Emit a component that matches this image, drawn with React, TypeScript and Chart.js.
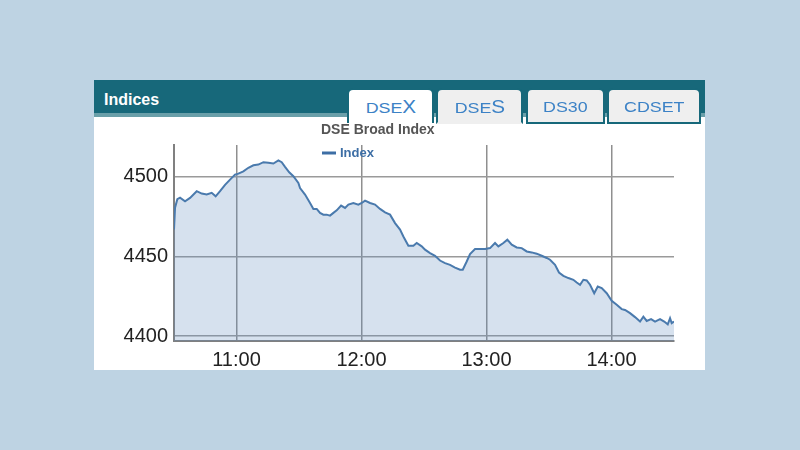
import React, { useEffect, useRef } from "react";
import { Chart, registerables } from "chart.js";

Chart.register(...registerables);

// minutes since 10:30
const minutes = [
  0, 0.5, 1.6, 2.9, 5.3, 7.7, 10.9, 13.3, 15.7, 18.1, 20.0, 22.1, 24.5, 26.9, 29.3, 30.9,
  33.3, 35.7, 38.1, 40.5, 42.9, 45.3, 47.7, 50.1, 51.7, 53.3, 55.3, 57.3, 59.7, 60.5, 62.9,
  65.3, 66.9, 68.5, 70.1, 71.7, 73.3, 74.9, 76.5, 78.1, 80.2, 82.1, 83.7, 86.1, 88.5, 90.1,
  91.7, 94.1, 96.5, 98.9, 101.3, 103.7, 106.1, 108.5, 110.1, 112.5, 114.9, 116.5, 118.9,
  120.5, 122.9, 125.3, 127.7, 130.1, 132.5, 134.9, 137.3, 138.6, 140.5, 142.1, 144.5, 146.9,
  149.3, 151.7, 154.1, 155.7, 158.1, 160.0, 162.1, 164.5, 166.9, 169.3, 171.7, 174.1, 176.5,
  178.9, 180.5, 182.9, 184.8, 186.9, 189.3, 191.7, 193.3, 194.9, 196.5, 198.1, 199.7, 201.7,
  203.4, 205.3, 207.7, 210.1, 212.5, 214.9, 216.5, 218.9, 221.3, 223.7, 225.3, 226.9, 229.0,
  230.9, 233.3, 235.3, 237.0, 238.1, 238.9, 240,
];

const indexValues = [
  4467, 4480.7, 4486, 4487, 4484.7, 4486.8, 4491, 4489.5, 4488.9, 4490, 4487.8, 4491, 4495,
  4498.3, 4501.4, 4502, 4503.5, 4505.7, 4507.3, 4507.7, 4509.2, 4508.8, 4508.4, 4510.3,
  4509.2, 4506.3, 4502.9, 4500.4, 4496.2, 4493, 4488.9, 4483.6, 4479.9, 4479.9, 4477.4,
  4476.3, 4476.3, 4475.7, 4477.4, 4479, 4482, 4480.5, 4482.6, 4483.6, 4482.6, 4483.6, 4485.1,
  4483.6, 4482.6, 4479.9, 4477.7, 4476.3, 4471, 4466.9, 4462.6, 4456.8, 4456.8, 4458.5,
  4456.4, 4454.3, 4452.2, 4450.5, 4447.5, 4445.9, 4444.8, 4443.1, 4441.7, 4441.7, 4446.9,
  4451.6, 4454.7, 4454.7, 4454.7, 4455.3, 4458.5, 4456.4, 4458.5, 4460.6, 4457.4, 4455.7,
  4455.3, 4453.2, 4452.6, 4451.8, 4450.5, 4449.1, 4448, 4444.8, 4440, 4437.9, 4436.5, 4435.4,
  4433.7, 4432.3, 4435.4, 4435, 4432.3, 4427, 4431.2, 4430.2, 4427, 4422.2, 4419.7, 4417,
  4416.5, 4414.5, 4412, 4409.2, 4412.3, 4409.6, 4410.7, 4409.2, 4410.7, 4409.2, 4407.5,
  4411.3, 4408.2, 4409.2,
];

const xTickMinutes = [30, 90, 150, 210];
const xTickLabels = ["11:00", "12:00", "13:00", "14:00"];
const yTickValues = [4400, 4450, 4500];

const chartTitle = "DSE Broad Index";
const seriesLabel = "Index";
const panelTitle = "Indices";

const LINE = "#4a7aad";
const FILL = "rgba(96, 140, 190, 0.26)";

const headerPlugin = {
  id: "headerText",
  afterDraw(chart: any) {
    const ctx = chart.ctx;
    ctx.save();
    ctx.fillStyle = "#555555";
    ctx.font = "bold 14px 'Liberation Sans', Arial, sans-serif";
    ctx.textBaseline = "alphabetic";
    ctx.textAlign = "left";
    ctx.fillText(chartTitle, 226, 14);
    ctx.strokeStyle = "#3d6ea5";
    ctx.lineWidth = 3;
    ctx.beginPath();
    ctx.moveTo(227, 33);
    ctx.lineTo(241, 33);
    ctx.stroke();
    ctx.fillStyle = "#3d6ea5";
    ctx.font = "bold 13px 'Liberation Sans', Arial, sans-serif";
    ctx.textBaseline = "middle";
    ctx.fillText(chart.data.datasets[0].label, 245, 33);
    ctx.restore();
  },
};

function ChartCanvas() {
  const ref = useRef<HTMLCanvasElement>(null);
  useEffect(() => {
    if (!ref.current) return;
    const chart = new Chart(ref.current, {
      type: "line",
      data: {
        datasets: [
          {
            label: seriesLabel,
            data: minutes.map((m, i) => ({ x: m, y: indexValues[i] })),
            borderColor: LINE,
            backgroundColor: FILL,
            borderWidth: 2,
            fill: "start",
            pointRadius: 0,
            tension: 0,
          },
        ],
      },
      options: {
        animation: false,
        responsive: false,
        layout: { padding: { top: 25, right: 31, left: 0, bottom: 0 } },
        plugins: {
          legend: { display: false },
          title: { display: false },
          tooltip: { enabled: false },
        },
        scales: {
          x: {
            type: "linear",
            min: 0,
            max: 240,
            afterBuildTicks: (s: any) => {
              s.ticks = xTickMinutes.map((v) => ({ value: v }));
            },
            afterFit: (s: any) => {
              s.height = 29;
            },
            ticks: {
              padding: 7,
              color: "#222",
              font: { family: "'Liberation Sans', Arial, sans-serif", size: 20 },
              callback: (v: any) => {
                const i = xTickMinutes.indexOf(Number(v));
                return i >= 0 ? xTickLabels[i] : "";
              },
              maxRotation: 0,
              autoSkip: false,
            },
            grid: { color: "#8f8f8f", lineWidth: 1.5, drawTicks: false },
            border: { display: true, color: "#808080", width: 2 },
          },
          y: {
            type: "linear",
            min: 4397,
            max: 4520,
            afterBuildTicks: (s: any) => {
              s.ticks = yTickValues.map((v) => ({ value: v }));
            },
            afterFit: (s: any) => {
              s.width = 79;
            },
            ticks: {
              padding: 6,
              color: "#222",
              font: { family: "'Liberation Sans', Arial, sans-serif", size: 20 },
              callback: (v: any) => String(v),
            },
            grid: { color: "#9a9a9a", lineWidth: 1.5, drawTicks: false },
            border: { display: true, color: "#808080", width: 2 },
          },
        },
      },
      plugins: [headerPlugin],
    });
    return () => chart.destroy();
  }, []);
  return (
    <canvas
      ref={ref}
      width={610}
      height={250}
      style={{ position: "absolute", left: 95, top: 120, width: 610, height: 250 }}
    />
  );
}

const tabFont = "'Liberation Sans', Arial, sans-serif";
const TEAL = "#17687a";
const TAB_BLUE = "#3c82c6";

function Tab(props: {
  left: number;
  width: number;
  active?: boolean;
  bottomBorder?: boolean;
  children: any;
}) {
  const { left, width, active, bottomBorder, children } = props;
  return (
    <div
      style={{
        position: "absolute",
        left,
        top: 88,
        width,
        height: active ? 35 : 36,
        boxSizing: "border-box",
        background: active ? "#ffffff" : "#efefef",
        border: `2px solid ${TEAL}`,
        borderBottom: active ? "none" : bottomBorder ? `2px solid ${TEAL}` : "2px solid #efefef",
        borderRadius: "6px 6px 0 0",
        display: "flex",
        alignItems: "center",
        justifyContent: "center",
        color: TAB_BLUE,
        fontFamily: tabFont,
        fontSize: 15.5,
        zIndex: 2,
      }}
    >
      <span style={{ display: "inline-block", transform: "scaleX(1.15)", marginTop: 2 }}>
        {children}
      </span>
    </div>
  );
}

export default function App() {
  return (
    <div
      style={{
        position: "fixed",
        left: 0,
        top: 0,
        width: 800,
        height: 450,
        background: "#bed3e3",
        overflow: "hidden",
      }}
    >
      <div
        style={{
          position: "absolute",
          left: 94,
          top: 80,
          width: 611,
          height: 290,
          background: "#ffffff",
        }}
      />
      <div
        style={{
          position: "absolute",
          left: 94,
          top: 80,
          width: 611,
          height: 33,
          background: TEAL,
          borderBottom: "4px solid #6a9fa9",
        }}
      />
      <div
        style={{
          position: "absolute",
          left: 104,
          top: 90,
          color: "#ffffff",
          fontFamily: tabFont,
          fontWeight: "bold",
          fontSize: 16,
          lineHeight: "20px",
        }}
      >
        {panelTitle}
      </div>
      <ChartCanvas />
      <Tab left={347} width={87} active>
        <span>DSE</span>
        <span style={{ fontSize: 18 }}>X</span>
      </Tab>
      <Tab left={436} width={87}>
        <span>DSE</span>
        <span style={{ fontSize: 18 }}>S</span>
      </Tab>
      <Tab left={526} width={79} bottomBorder>
        DS30
      </Tab>
      <Tab left={607} width={94} bottomBorder>
        CDSET
      </Tab>
    </div>
  );
}
